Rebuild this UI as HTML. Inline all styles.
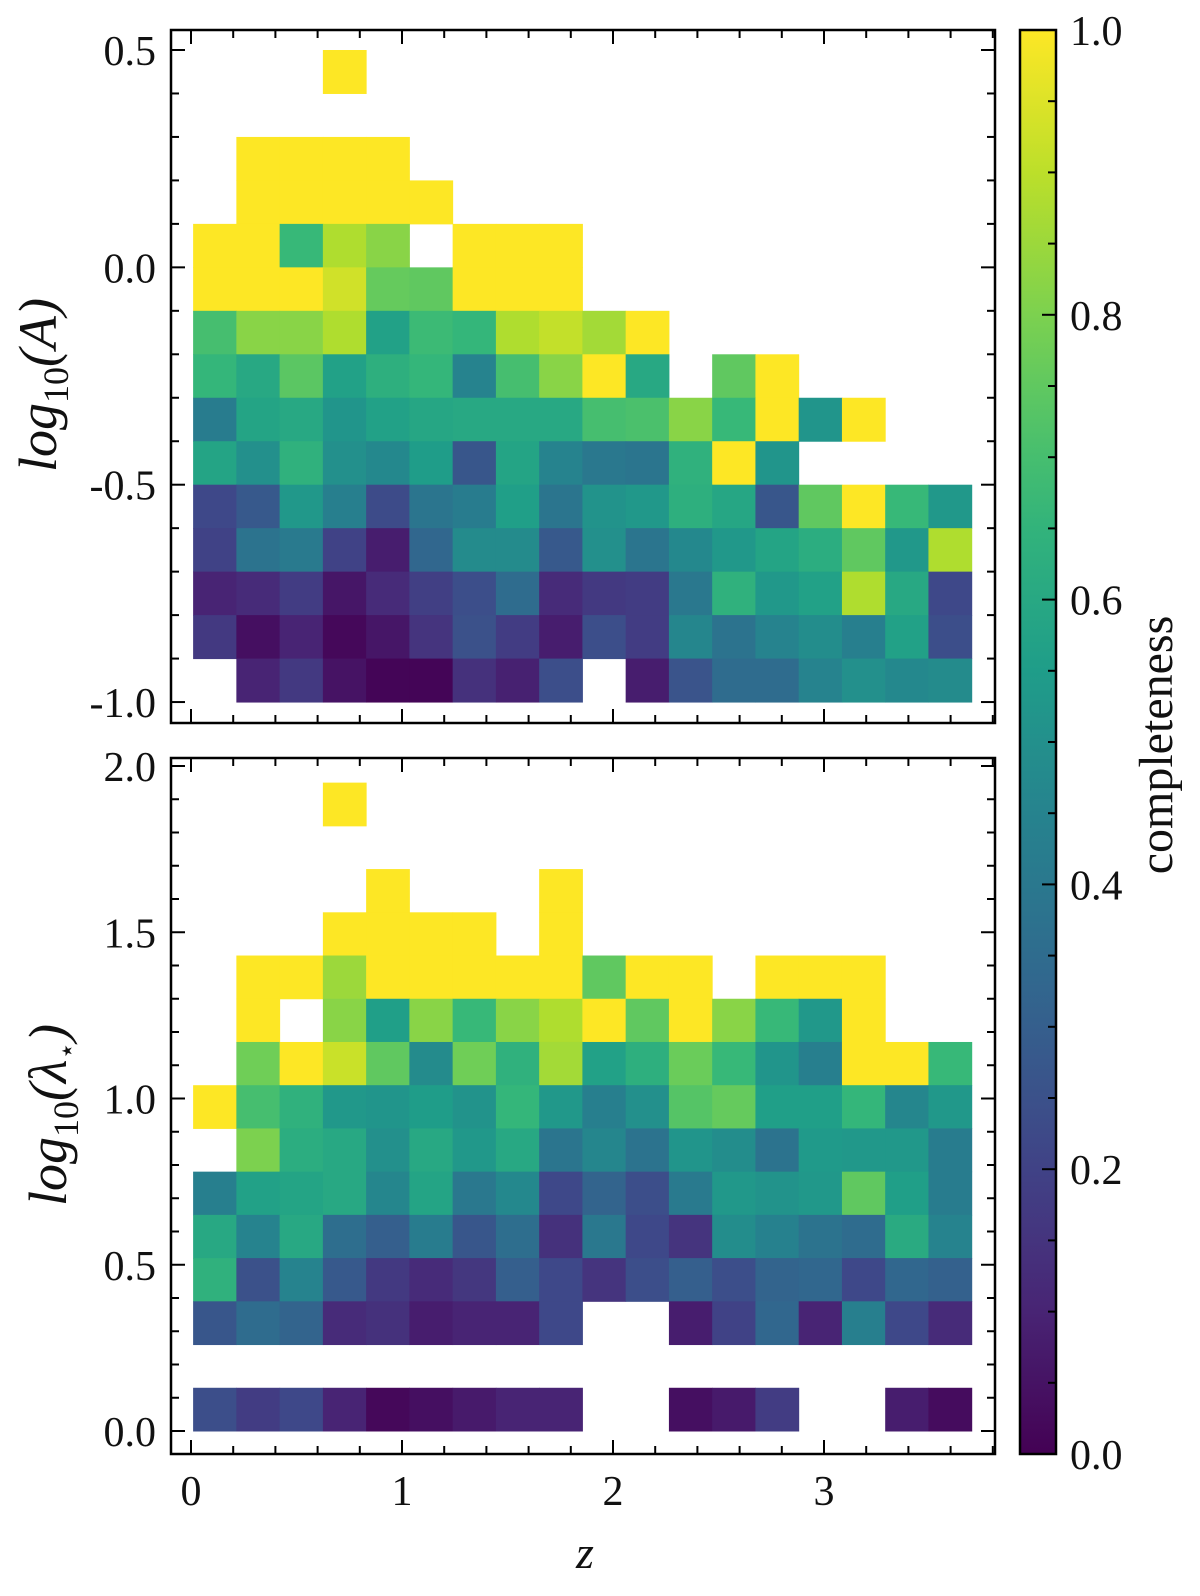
<!DOCTYPE html>
<html><head><meta charset="utf-8"><style>
html,body{margin:0;padding:0;background:#fff}
svg{display:block}
text{font-family:"Liberation Serif",serif;fill:#111}
</style></head><body>
<svg id="fig" width="1200" height="1596" viewBox="0 0 1200 1596" xmlns="http://www.w3.org/2000/svg">
<g id="top"></g>
<g id="bot"></g>
<g id="cbar"></g>
<text transform="translate(56,385) rotate(-90)" text-anchor="middle" font-size="54" font-style="italic">log<tspan font-size="36" dy="12" font-style="normal">10</tspan><tspan dy="-12">(A)</tspan></text>
<text transform="translate(66,1115) rotate(-90)" text-anchor="middle" font-size="54" font-style="italic">log<tspan font-size="36" dy="12" font-style="normal">10</tspan><tspan dy="-12">(λ</tspan><tspan font-size="28" dy="10" font-style="normal">⋆</tspan><tspan dy="-10">)</tspan></text>
<text x="585" y="1568" text-anchor="middle" font-size="46" font-style="italic">z</text>
<text transform="translate(1172,745) rotate(-90)" text-anchor="middle" font-size="48">completeness</text>
</svg>
<script>
// bin definitions
const zBinStart = 0.01;
const zBinWidth = 0.205;
const topRowTops = [0.5,0.4,0.3,0.2,0.1,0.0,-0.1,-0.2,-0.3,-0.4,-0.5,-0.6,-0.7,-0.8,-0.9];
const topRowHeight = 0.1;
const botRowHeight = 0.13;
const botRowCount = 15;
const N = null;
const topValues = [
[N,N,N,1,N,N,N,N,N,N,N,N,N,N,N,N,N,N],
[N,N,N,N,N,N,N,N,N,N,N,N,N,N,N,N,N,N],
[N,1,1,1,1,N,N,N,N,N,N,N,N,N,N,N,N,N],
[N,1,1,1,1,1,N,N,N,N,N,N,N,N,N,N,N,N],
[1,1,0.67,0.88,0.82,N,1,1,1,N,N,N,N,N,N,N,N,N],
[1,1,1,0.93,0.76,0.75,1,1,1,N,N,N,N,N,N,N,N,N],
[0.7,0.82,0.82,0.88,0.57,0.68,0.66,0.88,0.91,0.86,1,N,N,N,N,N,N,N],
[0.66,0.6,0.74,0.57,0.63,0.66,0.45,0.7,0.82,1,0.6,N,0.75,1,N,N,N,N],
[0.42,0.58,0.6,0.52,0.57,0.59,0.6,0.6,0.6,0.7,0.71,0.82,0.67,1,0.52,1,N,N],
[0.58,0.5,0.64,0.5,0.47,0.55,0.27,0.58,0.45,0.4,0.39,0.64,1,0.52,N,N,N,N],
[0.22,0.28,0.53,0.43,0.23,0.39,0.42,0.56,0.39,0.51,0.53,0.63,0.59,0.27,0.75,1,0.67,0.53],
[0.2,0.38,0.41,0.2,0.08,0.33,0.48,0.48,0.28,0.5,0.39,0.47,0.53,0.58,0.62,0.75,0.53,0.88],
[0.1,0.12,0.18,0.06,0.12,0.19,0.24,0.35,0.12,0.17,0.18,0.4,0.64,0.53,0.57,0.88,0.6,0.22],
[0.17,0.04,0.1,0.02,0.06,0.15,0.25,0.18,0.08,0.24,0.18,0.46,0.38,0.45,0.49,0.43,0.57,0.24],
[N,0.1,0.17,0.05,0.01,0.01,0.14,0.09,0.24,N,0.08,0.26,0.35,0.35,0.45,0.5,0.47,0.48]
];
const botValues = [
[N,N,N,1,N,N,N,N,N,N,N,N,N,N,N,N,N,N],
[N,N,N,N,N,N,N,N,N,N,N,N,N,N,N,N,N,N],
[N,N,N,N,1,N,N,N,1,N,N,N,N,N,N,N,N,N],
[N,N,N,1,1,1,1,N,1,N,N,N,N,N,N,N,N,N],
[N,1,1,0.85,1,1,1,1,1,0.75,1,1,N,1,1,1,N,N],
[N,1,N,0.82,0.56,0.82,0.67,0.82,0.88,1,0.75,1,0.82,0.67,0.53,1,N,N],
[N,0.78,1,0.92,0.75,0.48,0.78,0.64,0.86,0.57,0.63,0.77,0.67,0.52,0.43,1,1,0.67],
[1,0.7,0.64,0.53,0.52,0.55,0.51,0.66,0.53,0.43,0.5,0.73,0.76,0.56,0.56,0.66,0.46,0.53],
[N,0.8,0.62,0.6,0.5,0.6,0.53,0.6,0.39,0.46,0.38,0.52,0.49,0.38,0.54,0.53,0.53,0.42],
[0.43,0.57,0.58,0.6,0.46,0.58,0.4,0.47,0.22,0.32,0.24,0.41,0.53,0.51,0.53,0.75,0.56,0.42],
[0.6,0.45,0.6,0.36,0.3,0.42,0.27,0.36,0.14,0.4,0.22,0.15,0.49,0.44,0.38,0.35,0.61,0.45],
[0.64,0.25,0.45,0.28,0.17,0.12,0.16,0.3,0.22,0.15,0.24,0.3,0.24,0.32,0.33,0.22,0.33,0.31],
[0.27,0.35,0.32,0.12,0.14,0.08,0.1,0.1,0.22,N,N,0.08,0.2,0.33,0.1,0.43,0.22,0.12],
[N,N,N,N,N,N,N,N,N,N,N,N,N,N,N,N,N,N],
[0.24,0.18,0.22,0.1,0.02,0.04,0.07,0.1,0.1,N,N,0.04,0.07,0.18,N,N,0.08,0.03]
];
const xTicks = [0,1,2,3];
const xTickLabels = ["0","1","2","3"];
const topYTicks = [0.5,0.0,-0.5,-1.0];
const topYTickLabels = ["0.5","0.0","-0.5","-1.0"];
const botYTicks = [0,0.5,1,1.5,2];
const botYTickLabels = ["0.0","0.5","1.0","1.5","2.0"];
const cbTicks = [0,0.2,0.4,0.6,0.8,1.0];
const cbTickLabels = ["0.0","0.2","0.4","0.6","0.8","1.0"];

const VIR = ["#440154","#482878","#3e4989","#31688e","#26828e","#1f9e89","#35b779","#6ece58","#b5de2b","#fde725"];
function hex(h){return [1,3,5].map(i=>parseInt(h.substr(i,2),16));}
function viridis(v){
  v=Math.max(0,Math.min(1,v));const t=v*(VIR.length-1);const i=Math.min(VIR.length-2,Math.floor(t));const f=t-i;
  const a=hex(VIR[i]),b=hex(VIR[i+1]);return "rgb("+a.map((x,k)=>Math.round(x+(b[k]-x)*f)).join(",")+")";
}
const NS="http://www.w3.org/2000/svg";
function el(tag,attrs,parent){const e=document.createElementNS(NS,tag);for(const k in attrs)e.setAttribute(k,attrs[k]);parent.appendChild(e);return e;}
const X0=171, X1=995;
const xS = z => 191 + 211*z;

function panel(g, name, Y0, Y1, yS, vals, rowTop, rowH, yTicks, yLabels, yMin, yMax){
  vals.forEach((row,r)=>{
    row.forEach((v,c)=>{
      if(v===null) return;
      const z0=zBinStart+c*zBinWidth, z1=z0+zBinWidth;
      const yt=rowTop(r), yb=yt-rowH;
      const rc=el('rect',{x:xS(z0),y:yS(yt),width:xS(z1)-xS(z0)+0.5,height:yS(yb)-yS(yt)+0.5,fill:viridis(v)},g);
      
      
    });
  });
  const fr=el('rect',{x:X0,y:Y0,width:X1-X0,height:Y1-Y0,fill:'none',stroke:'#000','stroke-width':2.5},g);
  
  
  for(let k=0;k<=19;k++){const z=k*0.2;const x=xS(z);if(x>X1-2)break;const major=Math.abs(z-Math.round(z))<1e-6;const L=major?14:8;
    el('line',{x1:x,y1:Y1,x2:x,y2:Y1-L,stroke:'#000','stroke-width':2},g);
    el('line',{x1:x,y1:Y0,x2:x,y2:Y0+L,stroke:'#000','stroke-width':2},g);}
  for(let k=Math.round(yMin*10);k<=Math.round(yMax*10);k++){const y=yS(k/10);if(y<Y0+1||y>Y1-1)continue;const major=k%5===0;const L=major?14:8;
    el('line',{x1:X0,y1:y,x2:X0+L,y2:y,stroke:'#000','stroke-width':2},g);
    el('line',{x1:X1,y1:y,x2:X1-L,y2:y,stroke:'#000','stroke-width':2},g);}
  yTicks.forEach((t,i)=>{const tx=el('text',{x:156,y:yS(t)+15,'text-anchor':'end','font-size':42},g);tx.textContent=yLabels[i];
    
    });
}
const yTop = v => 50 + (0.5 - v)*434.7;
panel(document.getElementById('top'),'top',30,723,yTop,topValues,r=>topRowTops[r],topRowHeight,topYTicks,topYTickLabels,-1.1,0.6);
const yBot = v => 1431 - v*332.5;
panel(document.getElementById('bot'),'bottom',758,1454,yBot,botValues,r=>(botRowCount-r)*botRowHeight,botRowHeight,botYTicks,botYTickLabels,-0.1,2.1);
const gb=document.getElementById('bot');
xTicks.forEach((t,i)=>{const tx=el('text',{x:xS(t),y:1505,'text-anchor':'middle','font-size':42},gb);tx.textContent=xTickLabels[i];
  
  });

const cb=document.getElementById('cbar');
const CB0=30, CB1=1454, CX0=1020, CX1=1056;
const cbY = v => CB1 - v*(CB1-CB0);
const defs=el('defs',{},cb);
const grad=el('linearGradient',{id:'vg',x1:0,y1:1,x2:0,y2:0},defs);
for(let i=0;i<=20;i++){el('stop',{offset:(i/20),'stop-color':viridis(i/20)},grad);}
const cr=el('rect',{x:CX0,y:CB0,width:CX1-CX0,height:CB1-CB0,fill:'url(#vg)',stroke:'#000','stroke-width':2.5},cb);


for(let k=0;k<=20;k++){const v=k/20;const y=cbY(v);const major=k%4===0;const L=major?14:8;
  if(k===0||k===20)continue;
  el('line',{x1:CX1,y1:y,x2:CX1-L,y2:y,stroke:'#000','stroke-width':2},cb);}
cbTicks.forEach((t,i)=>{const tx=el('text',{x:1070,y:cbY(t)+15,'font-size':42},cb);tx.textContent=cbTickLabels[i];
  
  });
</script>
</body></html>
